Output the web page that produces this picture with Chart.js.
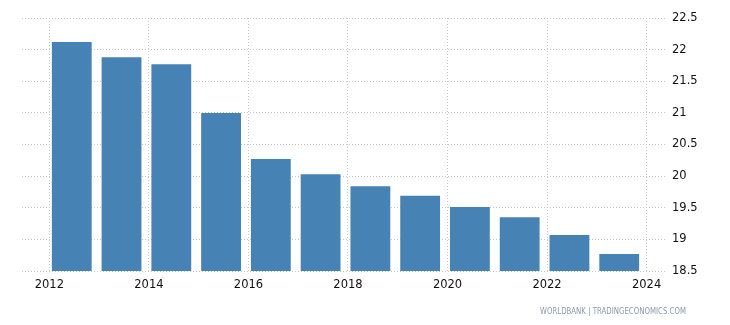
<!DOCTYPE html>
<html>
<head>
<meta charset="utf-8">
<script src="https://cdn.jsdelivr.net/npm/chart.js@4/dist/chart.umd.min.js"></script>
<style>
  html,body{margin:0;padding:0;background:#fff;}
</style>
</head>
<body>
<canvas id="c" width="730" height="325"></canvas>
<script>
const years = [2012,2013,2014,2015,2016,2017,2018,2019,2020,2021,2022,2023];
const values = [22.12,21.88,21.77,21.00,20.27,20.03,19.84,19.69,19.51,19.35,19.07,18.77];
const xTickYears = [2012,2014,2016,2018,2020,2022,2024];
const yTicks = [18.5,19,19.5,20,20.5,21,21.5,22,22.5];
const creditText = 'WORLDBANK | TRADINGECONOMICS.COM';
const barOffset = 0.45;

const points = years.map((y,i)=>({x:y+barOffset, y:values[i]}));
const font = {family:'"DejaVu Sans", Verdana, sans-serif', size:11.5};

const credit = {
  id:'credit',
  afterDraw(chart){
    const ctx = chart.ctx;
    ctx.save();
    ctx.font = '8.5px "DejaVu Sans", sans-serif';
    ctx.fillStyle = '#8a98ad';
    ctx.textBaseline = 'middle';
    ctx.textAlign = 'left';
    ctx.fillText(creditText, 540, 312, 146);
    ctx.restore();
  }
};

new Chart(document.getElementById('c'), {
  type:'bar',
  data:{datasets:[{data:points, backgroundColor:'#4682b4', borderWidth:0, barPercentage:0.8, categoryPercentage:1.0}]},
  plugins:[credit],
  options:{
    responsive:false, animation:false,
    layout:{padding:{left:22,top:18,right:0,bottom:0}},
    plugins:{legend:{display:false}, tooltip:{enabled:false}},
    scales:{
      x:{type:'linear', min:2011.45, max:2024.37, offset:false,
        afterBuildTicks:s=>{s.ticks = xTickYears.map(v=>({value:v}));},
        afterFit:s=>{s.height=54;},
        grid:{color:'#c8c8c8', lineWidth:1, drawTicks:false, offset:false},
        border:{display:false, dash:[1,2]},
        ticks:{font, color:'#111', padding:7, callback:v=>String(v), maxRotation:0, autoSkip:false}
      },
      y:{position:'right', min:18.5, max:22.5,
        afterBuildTicks:s=>{s.ticks = yTicks.map(v=>({value:v}));},
        afterFit:s=>{s.width=65;},
        grid:{color:'#c8c8c8', lineWidth:1, drawTicks:false},
        border:{display:false, dash:[1,2]},
        ticks:{font, color:'#111', padding:7, callback:v=>String(v)}
      }
    }
  }
});
</script>
</body>
</html>
